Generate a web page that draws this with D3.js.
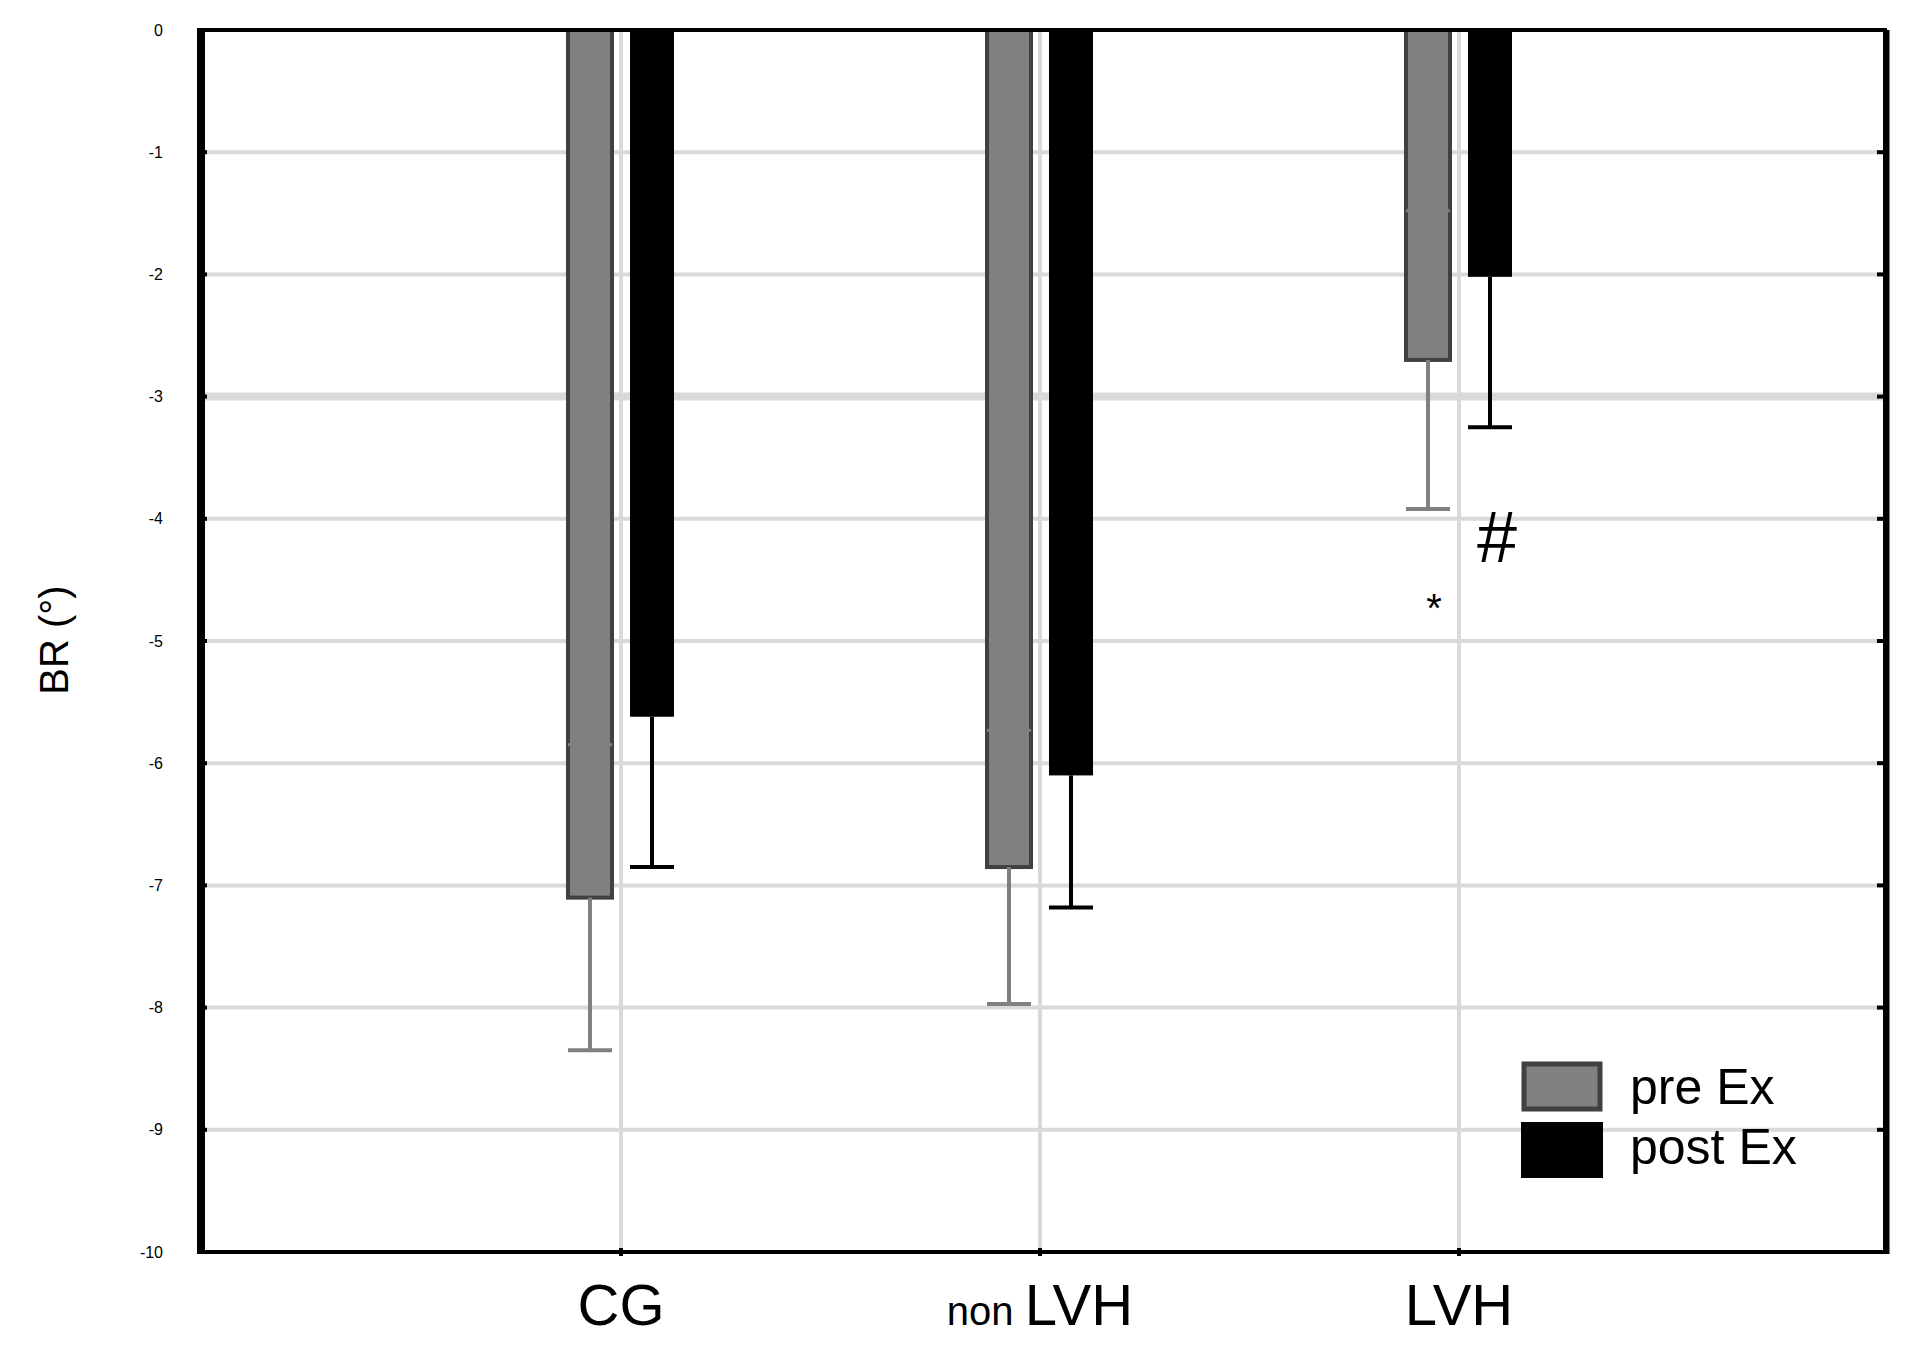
<!DOCTYPE html>
<html><head><meta charset="utf-8">
<script src="https://cdn.jsdelivr.net/npm/d3@7"></script>
<style>body{margin:0;background:#fff}</style>
</head><body>
<svg id="c" width="1907" height="1350"></svg>
<script>
const categories = ["CG", "non LVH", "LVH"];
const preMean = [-7.1, -6.85, -2.7];
const preSD = [1.25, 1.12, 1.22];
const postMean = [-5.62, -6.1, -2.02];
const postSD = [1.23, 1.08, 1.23];
const yTicks = [0, -1, -2, -3, -4, -5, -6, -7, -8, -9, -10];
const seriesNames = ["pre Ex", "post Ex"];

const svg = d3.select("#c");
const L = 199, R = 1885, T = 30, B = 1252;
const y = d3.scaleLinear().domain([0, -10]).range([T, B]);
const x = d3.scalePoint().domain(categories).range([621, 1459]);
const grid = "#d9d9d9";

// horizontal gridlines
svg.selectAll(".hg").data(yTicks.filter(d => d !== 0 && d !== -10)).enter().append("line")
  .attr("x1", L).attr("x2", R).attr("y1", d => y(d)).attr("y2", d => y(d))
  .attr("stroke", grid).attr("stroke-width", d => d === -3 ? 8 : 4);
// vertical gridlines
svg.selectAll(".vg").data(categories).enter().append("line")
  .attr("x1", d => x(d)).attr("x2", d => x(d)).attr("y1", T).attr("y2", B)
  .attr("stroke", grid).attr("stroke-width", 4);

const bw = 44, gap = 9;
// pre bars
categories.forEach((c, i) => {
  const cx = x(c);
  const px0 = cx - gap - bw;
  svg.append("rect").attr("x", px0).attr("y", y(0)).attr("width", bw)
    .attr("height", y(preMean[i]) - y(0)).attr("fill", "#808080")
    .attr("stroke", "#404040").attr("stroke-width", 4);
  const pc = px0 + bw / 2;
  svg.append("line").attr("x1", pc).attr("x2", pc).attr("y1", y(preMean[i])).attr("y2", y(preMean[i] - preSD[i]))
    .attr("stroke", "#808080").attr("stroke-width", 4);
  svg.append("line").attr("x1", px0).attr("x2", px0 + bw).attr("y1", y(preMean[i] - preSD[i])).attr("y2", y(preMean[i] - preSD[i]))
    .attr("stroke", "#808080").attr("stroke-width", 4);
  svg.append("line").attr("x1", px0).attr("x2", px0 + bw).attr("y1", y(preMean[i] + preSD[i])).attr("y2", y(preMean[i] + preSD[i]))
    .attr("stroke", "#808080").attr("stroke-width", 3);
  // post
  const qx0 = cx + gap;
  svg.append("rect").attr("x", qx0).attr("y", y(0)).attr("width", bw)
    .attr("height", y(postMean[i]) - y(0)).attr("fill", "#000");
  const qc = qx0 + bw / 2;
  svg.append("line").attr("x1", qc).attr("x2", qc).attr("y1", y(postMean[i])).attr("y2", y(postMean[i] - postSD[i]))
    .attr("stroke", "#000").attr("stroke-width", 4);
  svg.append("line").attr("x1", qx0).attr("x2", qx0 + bw).attr("y1", y(postMean[i] - postSD[i])).attr("y2", y(postMean[i] - postSD[i]))
    .attr("stroke", "#000").attr("stroke-width", 4);
});

// frame
svg.append("rect").attr("x", L).attr("y", T).attr("width", R - L).attr("height", B - T)
  .attr("fill", "none").attr("stroke", "#000").attr("stroke-width", 4);
svg.append("line").attr("x1", L + 2).attr("x2", L + 2).attr("y1", T).attr("y2", B).attr("stroke", "#000").attr("stroke-width", 8);
svg.append("line").attr("x1", R + 2).attr("x2", R + 2).attr("y1", T).attr("y2", B + 2).attr("stroke", "#000").attr("stroke-width", 5);

// y axis ticks and labels
const yAxis = d3.axisLeft(y).tickValues(yTicks).tickSize(0).tickPadding(36).tickFormat(d => d);
const ga = svg.append("g").attr("transform", `translate(${L},0)`).call(yAxis);
ga.select(".domain").remove();
ga.selectAll("text").attr("font-family", "Liberation Sans, Arial").attr("font-size", 16).attr("fill", "#000");
svg.selectAll(".tl").data(yTicks).enter().append("line")
  .attr("x1", L).attr("x2", L + 8).attr("y1", d => y(d)).attr("y2", d => y(d)).attr("stroke", "#000").attr("stroke-width", 4);
svg.selectAll(".tr").data(yTicks).enter().append("line")
  .attr("x1", R - 8).attr("x2", R).attr("y1", d => y(d)).attr("y2", d => y(d)).attr("stroke", "#000").attr("stroke-width", 4);
svg.selectAll(".tb").data(categories).enter().append("line")
  .attr("x1", d => x(d)).attr("x2", d => x(d)).attr("y1", B - 4).attr("y2", B + 4).attr("stroke", "#000").attr("stroke-width", 4);

// x labels
svg.selectAll(".xl").data(categories).enter().append("text")
  .attr("x", d => x(d)).attr("y", 1325).attr("text-anchor", "middle")
  .attr("font-family", "Liberation Sans, Arial").attr("font-size", 58).attr("fill", "#000")
  .each(function(d){
    const t = d3.select(this);
    if (d.startsWith("non")) {
      t.append("tspan").attr("font-size", 40).text("non ");
      t.append("tspan").text(d.slice(4));
    } else t.text(d);
  });

// y title
svg.append("text").attr("transform", "translate(68,640) rotate(-90)").attr("text-anchor", "middle")
  .attr("font-family", "Liberation Sans, Arial").attr("font-size", 40).attr("fill", "#000").text("BR (°)");

// annotations
svg.append("text").attr("x", 1434).attr("y", 622).attr("text-anchor", "middle")
  .attr("font-family", "Liberation Sans, Arial").attr("font-size", 40).text("*");
svg.append("text").attr("x", 1497).attr("y", 562).attr("text-anchor", "middle")
  .attr("font-family", "Liberation Sans, Arial").attr("font-size", 72).text("#");

// legend
const lg = svg.append("g");
lg.append("rect").attr("x", 1524).attr("y", 1064).attr("width", 76).attr("height", 45)
  .attr("fill", "#808080").attr("stroke", "#404040").attr("stroke-width", 5);
lg.append("rect").attr("x", 1521).attr("y", 1122).attr("width", 82).attr("height", 56).attr("fill", "#000");
lg.selectAll("text").data(seriesNames).enter().append("text")
  .attr("x", 1630).attr("y", (d, i) => 1104 + i * 60)
  .attr("font-family", "Liberation Sans, Arial").attr("font-size", 50).attr("fill", "#000").text(d => d);
</script>
</body></html>
